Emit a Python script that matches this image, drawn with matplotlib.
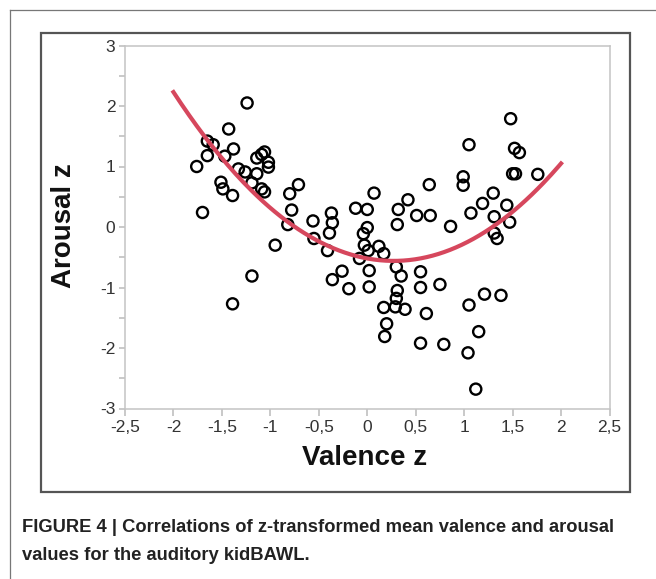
import matplotlib
matplotlib.use('Agg')
import matplotlib.pyplot as plt
import numpy as np
from matplotlib.ticker import MultipleLocator, FuncFormatter
from matplotlib.patches import Rectangle
from matplotlib.lines import Line2D

plt.rcParams['axes.unicode_minus'] = False

# valence z / arousal z values
valence = [-1.24, -1.43, -1.65, -1.59, -1.38, -1.65, -1.76, -1.47, -1.33, -1.26,
           -1.51, -1.49, -1.39, -1.70, -1.19, -1.14, -1.09, -1.06, -1.02, -1.02,
           -1.14, -1.09, -1.06, -0.71, -0.80, -0.78, -0.82, -0.95, -1.19, -1.39,
           -0.56, -0.55, -0.37, -0.36, -0.39, -0.41, -0.36, -0.26, -0.19, -0.12,
           0.00, 0.07, 0.00, -0.04, -0.03, 0.01, -0.08, 0.02, 0.02, 0.12,
           0.17, 0.17, 0.20, 0.18, 0.30, 0.35, 0.31, 0.30, 0.29, 0.39,
           0.32, 0.31, 0.42, 0.51, 0.64, 0.65, 0.55, 0.55, 0.61, 0.55,
           0.75, 0.79, 0.86, 0.99, 0.99, 1.05, 1.07, 1.19, 1.30, 1.31,
           1.31, 1.34, 1.44, 1.47, 1.48, 1.52, 1.57, 1.50, 1.53, 1.76,
           1.05, 1.21, 1.38, 1.15, 1.04, 1.12]
arousal = [2.05, 1.62, 1.42, 1.36, 1.29, 1.18, 1.00, 1.17, 0.96, 0.91,
           0.74, 0.63, 0.52, 0.24, 0.73, 1.14, 1.20, 1.24, 1.07, 0.99,
           0.88, 0.63, 0.58, 0.70, 0.55, 0.28, 0.04, -0.30, -0.81, -1.27,
           0.10, -0.19, 0.23, 0.07, -0.10, -0.39, -0.87, -0.73, -1.02, 0.31,
           0.29, 0.56, -0.01, -0.11, -0.30, -0.39, -0.52, -0.72, -0.99, -0.32,
           -0.44, -1.33, -1.60, -1.81, -0.66, -0.81, -1.05, -1.18, -1.32, -1.36,
           0.29, 0.04, 0.45, 0.19, 0.70, 0.19, -0.74, -1.00, -1.43, -1.92,
           -0.95, -1.94, 0.01, 0.83, 0.69, 1.36, 0.23, 0.39, 0.56, 0.17,
           -0.10, -0.19, 0.36, 0.08, 1.79, 1.30, 1.23, 0.88, 0.88, 0.87,
           -1.29, -1.11, -1.13, -1.73, -2.08, -2.68]

# quadratic fit (a, b, c) over valence -2..2
fit_coef = [0.54, -0.295, -0.52]
fit_range = [-2, 2]

fig = plt.figure(figsize=(6.56, 5.79), dpi=100)

# frames
fig.add_artist(Line2D([9.5/656, 9.5/656], [0, 1-9.5/579], color='#777777', lw=0.9))
fig.add_artist(Line2D([9.5/656, 1], [1-9.5/579, 1-9.5/579], color='#777777', lw=0.9))
fig.add_artist(Rectangle((41/656, 1-492/579), (630-41)/656, (492-33)/579,
                         fill=False, ec='#555555', lw=1.6))

ax = fig.add_axes([125/656, 1-408.5/579, 484.5/656, 363/579])
ax.scatter(valence, arousal, s=64, facecolors='none', edgecolors='black',
           linewidths=1.7, zorder=2)
xf = np.linspace(fit_range[0], fit_range[1], 200)
ax.plot(xf, np.polyval(fit_coef, xf), color='#d6475d', lw=3, zorder=3)

ax.set_xlim(-2.5, 2.5)
ax.set_ylim(-3, 3)
ax.xaxis.set_major_locator(MultipleLocator(0.5))
ax.yaxis.set_major_locator(MultipleLocator(1))
ax.yaxis.set_minor_locator(MultipleLocator(0.5))
fmt = FuncFormatter(lambda v, p: ('%g' % v).replace('.', ','))
ax.xaxis.set_major_formatter(fmt)
ax.yaxis.set_major_formatter(fmt)
for s in ax.spines.values():
    s.set_color('#c4c4c4')
    s.set_linewidth(1.1)
ax.tick_params(axis='both', which='both', color='#bbbbbb', width=1.1,
               labelcolor='#333333', labelsize=12.5, direction='out')
ax.tick_params(axis='x', which='major', length=5, pad=3)
ax.tick_params(axis='y', which='both', length=4, pad=3)
for lab in ax.get_xticklabels() + ax.get_yticklabels():
    lab.set_family('Liberation Sans')

lblfont = dict(family='Liberation Sans', fontweight='bold',
               fontsize=20, color='#111111')
fig.text(365/656, 1-458/579, 'Valence z', ha='center', va='center', **lblfont)
fig.text(64/656, 1-226/579, 'Arousal z', ha='center', va='center', rotation=90, **lblfont)

capfont = dict(family='Liberation Sans', fontweight='bold', fontsize=13.2, color='#222222')
fig.text(22/656, 1-528/579, 'FIGURE 4 | Correlations of z-transformed mean valence and arousal',
         ha='left', va='center', **capfont)
fig.text(22/656, 1-556/579, 'values for the auditory kidBAWL.',
         ha='left', va='center', **capfont)

plt.savefig('out.png', dpi=100)
